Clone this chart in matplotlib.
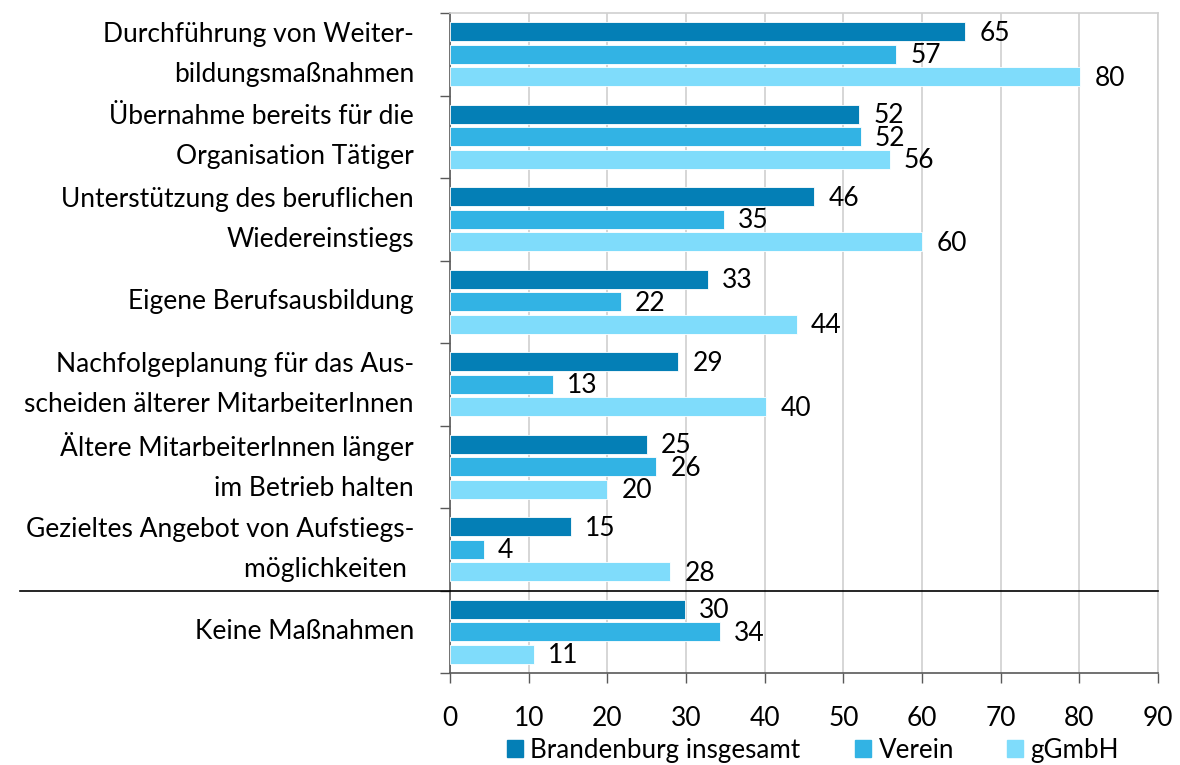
import numpy as np
import matplotlib
matplotlib.use("Agg")
import matplotlib.pyplot as plt
from matplotlib.patches import Patch
from matplotlib.transforms import blended_transform_factory

plt.rcParams['font.family'] = ['Lato', 'DejaVu Sans']

categories = [
    "Durchführung von Weiter-\nbildungsmaßnahmen",
    "Übernahme bereits für die\nOrganisation Tätiger",
    "Unterstützung des beruflichen\nWiedereinstiegs",
    "Eigene Berufsausbildung",
    "Nachfolgeplanung für das Aus-\nscheiden älterer MitarbeiterInnen",
    "Ältere MitarbeiterInnen länger\nim Betrieb halten",
    "Gezieltes Angebot von Aufstiegs-\nmöglichkeiten ",
    "Keine Maßnahmen",
]
series_names = ["Brandenburg insgesamt", "Verein", "gGmbH"]
brandenburg = [65.5, 52.0, 46.3, 32.8, 29.0, 25.0, 15.4, 29.9]
verein = [56.7, 52.2, 34.8, 21.7, 13.1, 26.2, 4.3, 34.3]
ggmbh = [80.1, 55.9, 60.0, 44.1, 40.2, 20.0, 28.0, 10.7]
labels_b = [65, 52, 46, 33, 29, 25, 15, 30]
labels_v = [57, 52, 35, 22, 13, 26, 4, 34]
labels_g = [80, 56, 60, 44, 40, 20, 28, 11]
colors = ["#047FB6", "#32B3E4", "#7FDCFB"]

fs = 19

fig = plt.figure(figsize=(11.8, 7.65), dpi=100)
ax = fig.add_axes([450/1180, 1-673/765, 708/1180, 660/765])

y = np.arange(len(categories))
pitch = 0.273
h = 0.225
all_vals = [brandenburg, verein, ggmbh]
all_labels = [labels_b, labels_v, labels_g]
for k in range(3):
    pos = y + (k - 1) * pitch
    ax.barh(pos, all_vals[k], height=h, color=colors[k], label=series_names[k],
            edgecolor='white', linewidth=0.6, zorder=3)
    for p, v, lab in zip(pos, all_vals[k], all_labels[k]):
        ax.text(v + 1.8, p + 0.02, str(lab), va='center', ha='left', fontsize=fs, color='black')

ax.set_xlim(0, 90)
ax.set_ylim(len(categories) - 0.5, -0.5)
ax.set_xticks(np.arange(0, 91, 10))
ax.tick_params(axis='x', labelsize=fs, length=7, width=1, color='#595959', pad=17)
ax.set_yticks(y)
ax.set_yticklabels(categories, fontsize=fs, ha='right', va='center', linespacing=1.75)
ax.tick_params(axis='y', which='major', length=0, pad=26)
ax.set_yticks(np.arange(-0.5, len(categories), 1), minor=True)
ax.tick_params(axis='y', which='minor', length=7, width=1, color='#595959')

ax.grid(axis='x', color='#D0D0D0', linewidth=1.2, zorder=0)
for s in ['top', 'right']:
    ax.spines[s].set_color('#D0D0D0')
    ax.spines[s].set_linewidth(1.2)
for s in ['left', 'bottom']:
    ax.spines[s].set_color('#595959')
    ax.spines[s].set_linewidth(1.2)

trans = blended_transform_factory(ax.transAxes, ax.transData)
ax.plot([-0.607, 1], [6.5, 6.5], color='black', linewidth=1.2, transform=trans,
        clip_on=False, zorder=4)

# legend entries placed one by one, like the original layout
leg_x = [485/1180, 833/1180, 985/1180]
for name, col, lx in zip(series_names, colors, leg_x):
    fig.legend(handles=[Patch(color=col)], labels=[name], loc='lower left',
               bbox_to_anchor=(lx, -0.026), frameon=False, fontsize=18.7,
               handlelength=0.6, handleheight=0.6, handletextpad=0.3,
               borderpad=0.35)

fig.savefig("out.png", dpi=100)
